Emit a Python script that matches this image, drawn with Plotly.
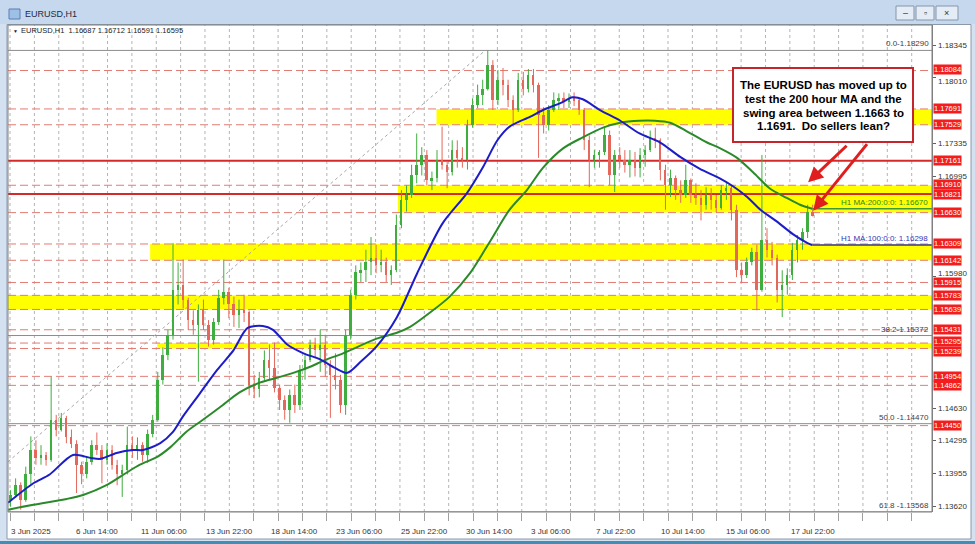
import plotly.graph_objects as go

# ---------------- data ----------------
# 5-hour candles, x = hourly bar index of candle centre
opens = [
1.1369,1.1374,1.1384,1.1369,1.1395,1.1420,1.1412,1.1415,1.1410,1.1451,
1.1441,1.1453,1.1433,1.1426,1.1405,1.1395,1.1408,1.1425,1.1420,1.1410,
1.1420,1.1405,1.1395,1.1400,1.1425,1.1420,1.1425,1.1415,1.1436,1.1451,
1.1492,1.1517,1.1538,1.1584,1.1589,1.1574,1.1553,1.1548,1.1563,1.1548,
1.1533,1.1551,1.1576,1.1582,1.1569,1.1558,1.1563,1.1561,1.1487,1.1482,
1.1494,1.1512,1.1504,1.1484,1.1471,1.1461,1.1476,1.1466,1.1502,1.1512,
1.1528,1.1522,1.1528,1.1507,1.1497,1.1492,1.1466,1.1538,1.1579,1.1602,
1.1604,1.1612,1.1617,1.1609,1.1612,1.1599,1.1604,1.1650,1.1676,1.1681,
1.1701,1.1712,1.1722,1.1696,1.1698,1.1717,1.1712,1.1705,1.1727,1.1719,
1.1717,1.1753,1.1773,1.1783,1.1790,1.1814,1.1778,1.1799,1.1794,1.1778,
1.1768,1.1799,1.1790,1.1804,1.1794,1.1763,1.1753,1.1768,1.1778,1.1780,
1.1776,1.1780,1.1778,1.1768,1.1737,1.1717,1.1722,1.1725,1.1742,1.1701,
1.1722,1.1717,1.1712,1.1717,1.1709,1.1722,1.1727,1.1739,1.1737,1.1707,
1.1691,1.1698,1.1686,1.1681,1.1696,1.1681,1.1678,1.1671,1.1681,1.1676,
1.1668,1.1686,1.1688,1.1666,1.1604,1.1599,1.1612,1.1623,1.1584,1.1635,
1.1625,1.1617,1.1584,1.1589,1.1599,1.1625,1.1635,1.1643,1.1664]
highs = [
1.1379,1.1391,1.1387,1.1403,1.1434,1.1430,1.1425,1.1418,1.1495,1.1456,
1.1458,1.1455,1.1441,1.1430,1.1408,1.1414,1.1430,1.1438,1.1425,1.1427,
1.1425,1.1410,1.1405,1.1444,1.1434,1.1433,1.1428,1.1441,1.1456,1.1500,
1.1525,1.1543,1.1632,1.1612,1.1615,1.1576,1.1563,1.1569,1.1574,1.1553,
1.1555,1.1584,1.1615,1.1586,1.1577,1.1574,1.1579,1.1563,1.1497,1.1500,
1.1522,1.1528,1.1530,1.1487,1.1476,1.1482,1.1487,1.1507,1.1517,1.1533,
1.1535,1.1543,1.1538,1.1512,1.1519,1.1497,1.1543,1.1584,1.1609,1.1612,
1.1625,1.1638,1.1630,1.1625,1.1617,1.1609,1.1661,1.1686,1.1691,1.1712,
1.1744,1.1730,1.1727,1.1705,1.1727,1.1751,1.1715,1.1737,1.1737,1.1730,
1.1758,1.1780,1.1794,1.1799,1.1829,1.1819,1.1809,1.1811,1.1799,1.1783,
1.1806,1.1807,1.1810,1.1810,1.1796,1.1771,1.1773,1.1786,1.1785,1.1786,
1.1785,1.1786,1.1780,1.1770,1.1742,1.1727,1.1727,1.1751,1.1747,1.1727,
1.1730,1.1727,1.1727,1.1725,1.1729,1.1732,1.1747,1.1750,1.1739,1.1712,
1.1707,1.1701,1.1696,1.1712,1.1698,1.1693,1.1686,1.1689,1.1688,1.1681,
1.1691,1.1694,1.1691,1.1671,1.1612,1.1617,1.1627,1.1630,1.1722,1.1647,
1.1633,1.1620,1.1604,1.1606,1.1632,1.1640,1.1647,1.1671,1.16712]
lows = [
1.1362,1.1371,1.1359,1.1367,1.1384,1.1405,1.1405,1.1404,1.1408,1.1434,
1.1439,1.1427,1.1422,1.1376,1.1385,1.1391,1.1405,1.1415,1.1386,1.1405,
1.1400,1.1384,1.1372,1.1395,1.1412,1.1410,1.1408,1.1407,1.1433,1.1449,
1.1487,1.1512,1.1533,1.1569,1.1565,1.1543,1.1538,1.1490,1.1543,1.1526,
1.1528,1.1548,1.1569,1.1555,1.1546,1.1545,1.1551,1.1476,1.1473,1.1474,
1.1490,1.1492,1.1479,1.1461,1.1451,1.1448,1.1458,1.1461,1.1492,1.1510,
1.1514,1.1500,1.1495,1.1453,1.1482,1.1458,1.1456,1.1533,1.1574,1.1592,
1.1592,1.1599,1.1601,1.1602,1.1592,1.1589,1.1602,1.1647,1.1664,1.1678,
1.1693,1.1701,1.1691,1.1686,1.1694,1.1707,1.1688,1.1701,1.1709,1.1709,
1.1707,1.1750,1.1770,1.1773,1.1788,1.1768,1.1773,1.1783,1.1771,1.1751,
1.1766,1.1783,1.1786,1.1786,1.1719,1.1744,1.1747,1.1766,1.1768,1.1770,
1.1770,1.1772,1.1763,1.1727,1.1689,1.1709,1.1709,1.1722,1.1691,1.1684,
1.1709,1.1704,1.1699,1.1700,1.1699,1.1710,1.1725,1.1729,1.1696,1.1666,
1.1679,1.1676,1.1673,1.1678,1.1673,1.1671,1.1655,1.1666,1.1666,1.1663,
1.1666,1.1676,1.1655,1.1597,1.1592,1.1596,1.1609,1.1563,1.1582,1.1617,
1.1609,1.1571,1.1556,1.1579,1.1594,1.1612,1.1625,1.1637,1.16591]
closes = [
1.1374,1.1384,1.1369,1.1395,1.1420,1.1412,1.1415,1.1410,1.1451,1.1441,
1.1453,1.1433,1.1426,1.1405,1.1395,1.1408,1.1425,1.1420,1.1410,1.1420,
1.1405,1.1395,1.1400,1.1425,1.1420,1.1425,1.1415,1.1436,1.1451,1.1492,
1.1517,1.1538,1.1584,1.1589,1.1574,1.1553,1.1548,1.1563,1.1548,1.1533,
1.1551,1.1576,1.1582,1.1569,1.1558,1.1563,1.1561,1.1487,1.1482,1.1494,
1.1512,1.1504,1.1484,1.1471,1.1461,1.1476,1.1466,1.1502,1.1512,1.1528,
1.1522,1.1528,1.1507,1.1497,1.1492,1.1466,1.1538,1.1579,1.1602,1.1604,
1.1612,1.1617,1.1609,1.1612,1.1599,1.1604,1.1650,1.1676,1.1681,1.1701,
1.1712,1.1722,1.1696,1.1698,1.1717,1.1712,1.1705,1.1727,1.1719,1.1717,
1.1753,1.1773,1.1783,1.1790,1.1814,1.1778,1.1799,1.1794,1.1778,1.1768,
1.1799,1.1790,1.1804,1.1794,1.1763,1.1753,1.1768,1.1778,1.1780,1.1776,
1.1780,1.1778,1.1768,1.1737,1.1717,1.1722,1.1725,1.1742,1.1701,1.1722,
1.1717,1.1712,1.1717,1.1709,1.1722,1.1727,1.1739,1.1737,1.1707,1.1691,
1.1698,1.1686,1.1681,1.1696,1.1681,1.1678,1.1671,1.1681,1.1676,1.1668,
1.1686,1.1688,1.1666,1.1604,1.1599,1.1612,1.1623,1.1584,1.1635,1.1625,
1.1617,1.1584,1.1589,1.1599,1.1625,1.1635,1.1643,1.1664,1.16595]
candle_bars = [2.5 + 5 * i for i in range(len(closes))]

ma100_bar = [0,25,41,64,81,91,107,123,133,150,162,172,189,206,222,236,251,261,275,291,
             307,322,334,347,363,383,403,428,452,468,482,494,514,527,544,556,566,583,603,622,
             642,662,681,701,714,728,741,757,773,787,792]
ma100_val = [1.1366,1.1386,1.1395,1.1415,1.1412,1.1411,1.1417,1.1420,1.1420,1.1427,
             1.1438,1.1454,1.1478,1.1502,1.1522,1.1545,1.1547,1.1543,1.1528,1.1519,
             1.1513,1.1504,1.1499,1.1510,1.1526,1.1556,1.1601,1.1652,1.1683,1.1710,
             1.1737,1.1751,1.1761,1.1768,1.1775,1.1781,1.1779,1.1768,1.1757,1.1744,
             1.1735,1.1720,1.1708,1.1698,1.1690,1.1679,1.1666,1.1654,1.1641,1.1632,1.16298]
ma200_bar = [0,25,58,74,97,117,130,147,160,176,192,209,228,248,265,281,297,312,330,363,
             383,396,416,435,455,475,494,511,527,547,566,586,603,622,637,652,669,688,701,718,
             734,750,767,780,792]
ma200_val = [1.1359,1.1364,1.1370,1.1374,1.1384,1.1397,1.1405,1.1413,1.1423,1.1439,
             1.1451,1.1464,1.1479,1.1489,1.1494,1.1499,1.1505,1.1512,1.1519,1.1534,
             1.1540,1.1546,1.1561,1.1577,1.1601,1.1634,1.1666,1.1686,1.1709,1.1729,
             1.1740,1.1750,1.1755,1.1757,1.1757,1.1755,1.1746,1.1735,1.1729,1.1719,
             1.1704,1.1688,1.1678,1.1671,1.16670]
ma100_last = 1.16298
ma200_last = 1.16670

# horizontal levels
dashed_levels = [1.18084,1.17691,1.17529,1.16910,1.16630,1.16309,1.16142,1.15915,
                 1.15783,1.15639,1.15431,1.15295,1.15239,1.14954,1.14862,1.14450]
solid_levels = [1.17161,1.16821]
label_levels = [1.18084,1.17691,1.17529,1.17161,1.16910,1.16821,1.16630,1.16309,1.16142,
                1.15915,1.15783,1.15639,1.15431,1.15295,1.15239,1.14954,1.14862,1.14450]
label_nudge = {1.15295: 2, 1.15239: -3, 1.16910: 1, 1.16821: -1, 1.18084: 1}
zone_lo = [1.17529,1.16630,1.16142,1.15639,1.15239]
zone_hi = [1.17691,1.16910,1.16309,1.15783,1.15295]
zone_start_bar = [422,384,140,0,147]
fib_levels = [1.18290,1.15372,1.14470,1.13568]
fib_text = ["0.0-1.18290","38.2-1.15372","50.0 -1.14470","61.8 -1.13568"]
fib_diag_bar = [0,470]
fib_diag_val = [1.1408,1.18290]

price_ticks = [1.18345,1.18010,1.17335,1.16995,1.15980,1.14630,1.14295,1.13955,1.13620]
tick_nudge = {1.15980: 3, 1.18010: -4}
time_tick_bar = [1,65,129,193,257,321,385,449,513,577,641,705,769]
time_tick_text = ["3 Jun 2025","6 Jun 14:00","11 Jun 06:00","13 Jun 22:00","18 Jun 14:00",
                  "23 Jun 06:00","25 Jun 22:00","30 Jun 14:00","3 Jul 06:00","7 Jul 22:00",
                  "10 Jul 14:00","15 Jul 06:00","17 Jul 22:00"]
grid_bars = [2 + 24 * k for k in range(38)]
header = "EURUSD,H1  1.16687 1.16712 1.16591 1.16595"

# ---------------- layout geometry ----------------
W, H = 975, 544
ML, MR, MT, MB = 8, 43, 25, 32
PW, PH = W - ML - MR, H - MT - MB
XMAX = 910
YMIN, YMAX = 1.13566, 1.18550


def fx(px):
    return (px - ML) / PW


def fy(py):
    return (H - MB - py) / PH


UP, DN = "#3fae3f", "#e4685c"
FONT = "Liberation Sans"

fig = go.Figure()

for col, is_up in ((UP, True), (DN, False)):
    xs, ys = [], []
    bx, by, bb = [], [], []
    for x, o, h, l, c in zip(candle_bars, opens, highs, lows, closes):
        if (c >= o) == is_up:
            xs += [x, x, None]
            ys += [l, h, None]
            bx.append(x)
            bb.append(min(o, c))
            by.append(max(abs(c - o), 0.00004))
    fig.add_trace(go.Scatter(x=xs, y=ys, mode="lines", line=dict(color=col, width=1),
                             hoverinfo="skip", showlegend=False))
    fig.add_trace(go.Bar(x=bx, y=by, base=bb, width=1.9, marker=dict(color=col, line_width=0),
                         hoverinfo="skip", showlegend=False))

fig.add_trace(go.Scatter(x=ma200_bar, y=ma200_val, mode="lines",
                         line=dict(color="#2a8a2a", width=2, shape="spline", smoothing=0.8),
                         showlegend=False, hoverinfo="skip"))
fig.add_trace(go.Scatter(x=ma100_bar, y=ma100_val, mode="lines",
                         line=dict(color="#1c1cc8", width=2, shape="spline", smoothing=0.8),
                         showlegend=False, hoverinfo="skip"))
fig.add_trace(go.Scatter(x=[ma200_bar[-1], XMAX], y=[ma200_last, ma200_last], mode="lines",
                         line=dict(color="#3c9a3c", width=1.5), showlegend=False, hoverinfo="skip"))
fig.add_trace(go.Scatter(x=[ma100_bar[-1], XMAX], y=[ma100_last, ma100_last], mode="lines",
                         line=dict(color="#3434b0", width=1.5), showlegend=False, hoverinfo="skip"))

shapes = []
# window chrome
shapes.append(dict(type="rect", xref="paper", yref="paper", x0=fx(0), x1=fx(W), y0=fy(0), y1=fy(24),
                   fillcolor="#c6d8ee", line_width=0, layer="below"))
shapes.append(dict(type="rect", xref="paper", yref="paper", x0=fx(7), x1=fx(971), y0=fy(24.5), y1=fy(539),
                   fillcolor="white", line=dict(color="#8a99aa", width=1), layer="below"))
shapes.append(dict(type="rect", xref="paper", yref="paper", x0=fx(0), x1=fx(W), y0=fy(541), y1=fy(544),
                   fillcolor="#3d8fb8", line_width=0, layer="below"))
# grid
for b in grid_bars:
    shapes.append(dict(type="line", xref="x", yref="paper", x0=b, x1=b, y0=0, y1=1,
                       line=dict(color="#b4b4b4", width=1, dash="dot"), layer="below"))
# zones
for lo, hi, sb in zip(zone_lo, zone_hi, zone_start_bar):
    shapes.append(dict(type="rect", xref="x", yref="y", x0=sb, x1=XMAX, y0=lo, y1=hi,
                       fillcolor="#ffff00", line_width=0, layer="below"))
# fib lines
for lv in fib_levels:
    shapes.append(dict(type="line", xref="x", yref="y", x0=0, x1=XMAX, y0=lv, y1=lv,
                       line=dict(color="#8c8c8c", width=1), layer="below"))
shapes.append(dict(type="line", xref="x", yref="y", x0=fib_diag_bar[0], x1=fib_diag_bar[1],
                   y0=fib_diag_val[0], y1=fib_diag_val[1],
                   line=dict(color="#a8a8a8", width=1, dash="dot"), layer="below"))
# dashed levels
for lv in dashed_levels:
    shapes.append(dict(type="line", xref="x", yref="y", x0=0, x1=XMAX, y0=lv, y1=lv,
                       line=dict(color="#e27c74", width=1, dash="8px,4px"), layer="below"))
for lv in solid_levels:
    shapes.append(dict(type="line", xref="x", yref="y", x0=0, x1=XMAX, y0=lv, y1=lv,
                       line=dict(color="#d42a2a", width=2), layer="below"))
# plot border
shapes.append(dict(type="rect", xref="paper", yref="paper", x0=0, x1=1, y0=0, y1=1,
                   line=dict(color="#808080", width=1), fillcolor="rgba(0,0,0,0)", layer="above"))
# text box
shapes.append(dict(type="rect", xref="paper", yref="paper", x0=fx(733), x1=fx(913), y0=fy(142), y1=fy(68),
                   fillcolor="white", line=dict(color="#c4262c", width=2), layer="above"))
# window buttons
for x0, x1 in ((896, 914), (916, 934), (936, 958)):
    shapes.append(dict(type="rect", xref="paper", yref="paper", x0=fx(x0), x1=fx(x1), y0=fy(20), y1=fy(6),
                       fillcolor="#e4ecf6", line=dict(color="#8696ac", width=1), layer="above"))
shapes.append(dict(type="rect", xref="paper", yref="paper", x0=fx(9), x1=fx(20), y0=fy(19), y1=fy(9),
                   fillcolor="#9fc0e6", line=dict(color="#5a7fb0", width=1), layer="above"))

ann = []
# title bar
ann.append(dict(xref="paper", yref="paper", x=fx(23), y=fy(14), xanchor="left", yanchor="middle",
                text="EURUSD,H1", showarrow=False, font=dict(family=FONT, size=9, color="#1d2b44")))
for xc, s in ((905, "\u2013"), (925, "\u25ab"), (947, "\u00d7")):
    ann.append(dict(xref="paper", yref="paper", x=fx(xc), y=fy(13), xanchor="center", yanchor="middle",
                    text=s, showarrow=False, font=dict(family=FONT, size=9, color="#333")))
# header
ann.append(dict(xref="paper", yref="paper", x=fx(11), y=fy(31), xanchor="left", yanchor="middle",
                text="\u25bc", showarrow=False, font=dict(family=FONT, size=5, color="#222")))
ann.append(dict(xref="paper", yref="paper", x=fx(19), y=fy(31), xanchor="left", yanchor="middle",
                text=header, showarrow=False, font=dict(family=FONT, size=7.5, color="#222")))
# time labels
for b, t in zip(time_tick_bar, time_tick_text):
    ann.append(dict(xref="x", yref="paper", x=b, y=fy(531), xanchor="left", yanchor="middle",
                    text=t, showarrow=False, font=dict(family=FONT, size=8, color="#333")))
# fib labels
for lv, t in zip(fib_levels, fib_text):
    ann.append(dict(xref="paper", yref="y", x=fx(931), y=lv, xanchor="right", yanchor="bottom",
                    text=t, showarrow=False, font=dict(family=FONT, size=8, color="#404040")))
# MA labels
ann.append(dict(xref="paper", yref="y", x=fx(930), y=ma200_last, xanchor="right", yanchor="bottom",
                text="H1 MA:200:0:0: 1.16670", showarrow=False, font=dict(family=FONT, size=8, color="#2a8a2a")))
ann.append(dict(xref="paper", yref="y", x=fx(930), y=ma100_last, xanchor="right", yanchor="bottom",
                text="H1 MA:100:0:0: 1.16298", showarrow=False, font=dict(family=FONT, size=8, color="#3434b0")))
# price tick labels (right scale)
for v in price_ticks:
    ann.append(dict(xref="paper", yref="y", x=fx(936), y=v, xanchor="left", yanchor="middle",
                    yshift=tick_nudge.get(v, 0),
                    text=f"{v:.5f}", showarrow=False, font=dict(family=FONT, size=8, color="#333")))
# red price labels
for lv in label_levels:
    ann.append(dict(xref="paper", yref="y", x=fx(933), y=lv, xanchor="left", yanchor="middle",
                    yshift=label_nudge.get(lv, 0),
                    text=f"{lv:.5f}", showarrow=False, bgcolor="#f41c1c", borderpad=0,
                    font=dict(family=FONT, size=7.5, color="white")))
# text box lines
lines = ["The EURUSD has moved up to", "test the 200 hour MA and the",
         "swing area between 1.1663 to", "1.1691.  Do sellers lean?"]
for py, t in zip((85, 99, 112.5, 126), lines):
    ann.append(dict(xref="paper", yref="paper", x=fx(823), y=fy(py), xanchor="center", yanchor="middle",
                    text=f"<b>{t}</b>", showarrow=False, font=dict(family=FONT, size=11.5, color="black")))
# arrows
ann.append(dict(xref="x", yref="y", x=788, y=1.1694, ax=40, ay=-38, text="", showarrow=True,
                arrowhead=2, arrowsize=1, arrowwidth=3, arrowcolor="#e01e1e", standoff=0))
ann.append(dict(xref="x", yref="y", x=793, y=1.1665, ax=55, ay=-68, text="", showarrow=True,
                arrowhead=2, arrowsize=1, arrowwidth=3, arrowcolor="#e01e1e", standoff=0))

fig.update_layout(
    width=W, height=H, margin=dict(l=ML, r=MR, t=MT, b=MB, pad=0),
    paper_bgcolor="#d3e1f1", plot_bgcolor="white",
    barmode="overlay", bargap=0, showlegend=False,
    shapes=shapes, annotations=ann,
    xaxis=dict(range=[0, XMAX], showgrid=False, zeroline=False, showline=False,
               tickvals=grid_bars, ticks="outside", ticklen=8, tickcolor="#a0a0a0",
               showticklabels=False, fixedrange=True),
    yaxis=dict(range=[YMIN, YMAX], side="right", showgrid=False, zeroline=False,
               showline=True, linecolor="#808080", tickvals=price_ticks,
               ticks="outside", ticklen=3, tickcolor="#606060", showticklabels=False),
)

fig.write_html("out.html", config={"displayModeBar": False},
               post_script="document.body.style.margin='0px';document.body.style.overflow='hidden';")
